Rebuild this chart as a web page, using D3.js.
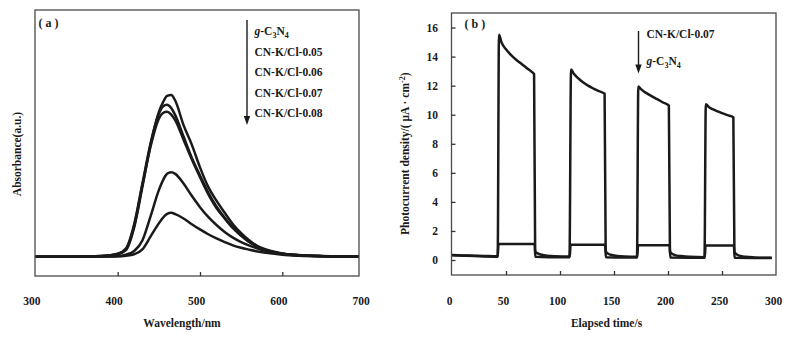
<!DOCTYPE html>
<html>
<head>
<meta charset="utf-8">
<script src="https://cdn.jsdelivr.net/npm/d3@7"></script>
<style>
  body { margin: 0; background: #fff; }
  svg { display: block; font-family: "Liberation Serif", "Times New Roman", serif; font-weight: bold; }
  text { fill: #1a1a1a; }
</style>
</head>
<body>
<svg id="chart" width="797" height="339"></svg>
<script>
// (a) UV-vis absorbance spectra
var wavelength = [300, 350, 380, 400, 410, 420, 430, 440, 450, 455, 460, 465, 470, 480, 490, 500, 510, 520, 530, 540, 550, 560, 570, 580, 600, 620, 650, 700];
var absGCN  = [0, 0, 0.003, 0.015, 0.04, 0.18, 0.43, 0.69, 0.89, 0.95, 0.99, 0.995, 0.96, 0.81, 0.69, 0.55, 0.43, 0.345, 0.27, 0.2, 0.145, 0.1, 0.065, 0.045, 0.02, 0.01, 0.004, 0];
var abs005  = [0, 0, 0.004, 0.018, 0.05, 0.2, 0.45, 0.7, 0.88, 0.925, 0.935, 0.915, 0.87, 0.74, 0.61, 0.5, 0.395, 0.31, 0.24, 0.18, 0.13, 0.09, 0.06, 0.04, 0.018, 0.009, 0.003, 0];
var abs006  = [0, 0, 0.004, 0.016, 0.046, 0.19, 0.44, 0.68, 0.85, 0.885, 0.893, 0.875, 0.84, 0.72, 0.6, 0.49, 0.385, 0.3, 0.235, 0.175, 0.13, 0.09, 0.06, 0.04, 0.018, 0.009, 0.003, 0];
var abs007  = [0, 0, 0.001, 0.003, 0.012, 0.035, 0.1, 0.25, 0.41, 0.47, 0.51, 0.52, 0.51, 0.45, 0.375, 0.305, 0.245, 0.195, 0.152, 0.117, 0.09, 0.068, 0.05, 0.036, 0.017, 0.008, 0.003, 0];
var abs008  = [0, 0, 0.001, 0.002, 0.006, 0.015, 0.045, 0.125, 0.205, 0.24, 0.263, 0.27, 0.262, 0.235, 0.2, 0.168, 0.138, 0.112, 0.09, 0.07, 0.055, 0.043, 0.032, 0.024, 0.012, 0.006, 0.002, 0];
var spectraNames = ["g-C3N4", "CN-K/Cl-0.05", "CN-K/Cl-0.06", "CN-K/Cl-0.07", "CN-K/Cl-0.08"];
var wlTicks = [300, 400, 500, 600, 700];

// (b) transient photocurrent, light on/off cycles
var timeK = [0, 10, 20, 30, 42.3, 43.5, 46, 50, 55, 60, 65, 70, 75, 76, 77, 78.5, 82, 88, 95, 108.8, 110.2, 113, 117, 121, 126, 131, 136, 141.3, 142.3, 143.8, 147, 153, 160, 171.3, 172.5, 175, 178, 182, 186, 190, 195, 200.8, 201.8, 203.3, 206.5, 212, 220, 233.8, 235, 238, 242, 246, 250, 255, 260.5, 261.5, 263, 266, 272, 280, 296];
var currentK = [0.35, 0.32, 0.3, 0.28, 0.26, 15.5, 14.95, 14.5, 14.08, 13.75, 13.46, 13.17, 12.88, 12.8, 0.6, 0.5, 0.38, 0.3, 0.26, 0.24, 13.12, 12.8, 12.5, 12.25, 12.0, 11.8, 11.62, 11.45, 0.6, 0.48, 0.36, 0.28, 0.24, 0.22, 11.95, 11.76, 11.58, 11.4, 11.23, 11.07, 10.86, 10.62, 0.58, 0.46, 0.34, 0.27, 0.22, 0.2, 10.72, 10.52, 10.36, 10.23, 10.11, 9.97, 9.83, 0.55, 0.42, 0.3, 0.22, 0.18, 0.15];
var timeG = [0, 20, 42.3, 43, 76.5, 77.2, 90, 109, 109.8, 141.8, 142.5, 160, 171.5, 172.3, 201.5, 202.2, 220, 234, 234.8, 261, 261.7, 280, 296];
var currentG = [0.33, 0.27, 0.22, 1.1, 1.1, 0.22, 0.2, 0.2, 1.05, 1.05, 0.2, 0.18, 0.18, 1.02, 1.02, 0.17, 0.16, 0.16, 1.0, 1.0, 0.15, 0.14, 0.14];
var photoNames = ["CN-K/Cl-0.07", "g-C3N4"];
var timeTicks = [0, 50, 100, 150, 200, 250, 300];
var currentTicks = [0, 2, 4, 6, 8, 10, 12, 14, 16];

var svg = d3.select("svg#chart");
var ink = "#1a1a1a";

// writes a sample name, with g italic and subscript digits for g-C3N4
function sampleLabel(sel, name) {
  if (name !== "g-C3N4") { sel.text(name); return; }
  sel.append("tspan").attr("font-style", "italic").text("g");
  sel.append("tspan").text("-C");
  sel.append("tspan").attr("font-size", 8).attr("dy", 3).text("3");
  sel.append("tspan").attr("dy", -3).text("N");
  sel.append("tspan").attr("font-size", 8).attr("dy", 3).text("4");
}

function arrow(g, x, y0, y1) {
  g.append("line")
      .attr("x1", x).attr("x2", x)
      .attr("y1", y0).attr("y2", y1 - 6)
      .attr("stroke", ink).attr("stroke-width", 1.4);
  g.append("path")
      .attr("d", "M" + (x - 3.2) + "," + (y1 - 9) + "L" + (x + 3.2) + "," + (y1 - 9) + "L" + x + "," + y1 + "Z")
      .attr("fill", ink);
}

// axis groups carry their own sans-serif font; drop it so the serif applies
function plainAxis(g) {
  g.attr("font-family", null).attr("font-size", null);
  g.select(".domain").remove();
  g.selectAll("line").attr("stroke", "#333").attr("stroke-width", 1.3);
  g.selectAll("text").attr("font-size", 11.5).attr("fill", ink);
}

// ---------- panel (a)
var xA = d3.scaleLinear().domain([300, 700]).range([35.4, 364.6]);
var yA = d3.scaleLinear().domain([-0.119, 1.519]).range([276, 10]);
var gA = svg.append("g");

gA.append("clipPath").attr("id", "clipA")
  .append("rect").attr("x", 35).attr("y", 10).attr("width", 324).attr("height", 266);

var spectra = [absGCN, abs005, abs006, abs007, abs008];
var lineA = d3.line()
    .x(function(d, i) { return xA(wavelength[i]); })
    .y(function(d) { return yA(d); })
    .curve(d3.curveMonotoneX);

gA.append("g")
    .attr("clip-path", "url(#clipA)")
  .selectAll("path")
  .data(spectra)
  .enter().append("path")
    .attr("d", lineA)
    .attr("fill", "none")
    .attr("stroke", ink)
    .attr("stroke-width", 2.5);

gA.append("rect")
    .attr("x", 35).attr("y", 10).attr("width", 324).attr("height", 266)
    .attr("fill", "none").attr("stroke", "#4a4a4a").attr("stroke-width", 1.3);

// inner tick marks
gA.append("g")
    .attr("transform", "translate(0,276)")
    .call(d3.axisBottom(xA).tickValues([400, 500, 600]).tickSize(-4).tickFormat(""))
    .call(plainAxis);

// tick labels
gA.append("g")
    .attr("transform", "translate(-4,276)")
    .call(d3.axisBottom(xA).tickValues(wlTicks).tickSize(0).tickPadding(21))
    .call(plainAxis);

gA.append("text")
    .attr("x", 182).attr("y", 327)
    .attr("text-anchor", "middle").attr("font-size", 11.5)
    .text("Wavelength/nm");

gA.append("text")
    .attr("transform", "translate(20.5,154) rotate(-90)")
    .attr("text-anchor", "middle").attr("font-size", 11.5)
    .text("Absorbance(a.u.)");

gA.append("text")
    .attr("x", 38.5).attr("y", 27).attr("font-size", 12)
    .attr("xml:space", "preserve")
    .text("( a )");

arrow(gA, 247, 20, 125);
gA.selectAll(".legA")
  .data(spectraNames)
  .enter().append("text")
    .attr("class", "legA")
    .attr("x", 254.5)
    .attr("y", function(d, i) { return 35 + i * 20.6; })
    .attr("font-size", 11.5)
    .each(function(d) { sampleLabel(d3.select(this), d); });

// ---------- panel (b)
var xB = d3.scaleLinear().domain([0, 300]).range([452, 776]);
var yB = d3.scaleLinear().domain([-1.03, 17]).range([275, 13]);
var gB = svg.append("g");

var lineB = d3.line()
    .x(function(d) { return xB(d[0]); })
    .y(function(d) { return yB(d[1]); })
    .curve(d3.curveMonotoneX);

var photo = [d3.zip(timeK, currentK), d3.zip(timeG, currentG)];
gB.selectAll(".photo")
  .data(photo)
  .enter().append("path")
    .attr("class", "photo")
    .attr("d", lineB)
    .attr("fill", "none")
    .attr("stroke", ink)
    .attr("stroke-width", 2.5)
    .attr("stroke-linejoin", "round");

gB.append("rect")
    .attr("x", 451.5).attr("y", 13).attr("width", 324.5).attr("height", 262)
    .attr("fill", "none").attr("stroke", "#4a4a4a").attr("stroke-width", 1.3);

gB.append("g")
    .attr("transform", "translate(0,275)")
    .call(d3.axisBottom(xB).tickValues([50, 100, 150, 200, 250]).tickSize(-4).tickFormat(""))
    .call(plainAxis);

gB.append("g")
    .attr("transform", "translate(-3,275)")
    .call(d3.axisBottom(xB).tickValues(timeTicks).tickSize(0).tickPadding(22))
    .call(plainAxis);

gB.append("g")
    .attr("transform", "translate(451.5,0)")
    .call(d3.axisLeft(yB).tickValues(currentTicks).tickSize(-4).tickPadding(13.5))
    .call(plainAxis);

gB.append("text")
    .attr("x", 606.5).attr("y", 327)
    .attr("text-anchor", "middle").attr("font-size", 11.5)
    .text("Elapsed time/s");

var yTitle = gB.append("text")
    .attr("transform", "translate(408.5,235) rotate(-90)")
    .attr("font-size", 11.5);
yTitle.append("tspan").text("Photocurrent density/( μA · cm");
yTitle.append("tspan").attr("font-size", 8).attr("dy", -4).text("-2");
yTitle.append("tspan").attr("dy", 4).text(")");

gB.append("text")
    .attr("x", 464.5).attr("y", 28).attr("font-size", 12)
    .attr("xml:space", "preserve")
    .text("( b )");

arrow(gB, 638.5, 31, 73.5);
gB.selectAll(".legB")
  .data(photoNames)
  .enter().append("text")
    .attr("class", "legB")
    .attr("x", 646.5)
    .attr("y", function(d, i) { return 37.5 + i * 27.5; })
    .attr("font-size", 11.5)
    .each(function(d) { sampleLabel(d3.select(this), d); });
</script>
</body>
</html>
